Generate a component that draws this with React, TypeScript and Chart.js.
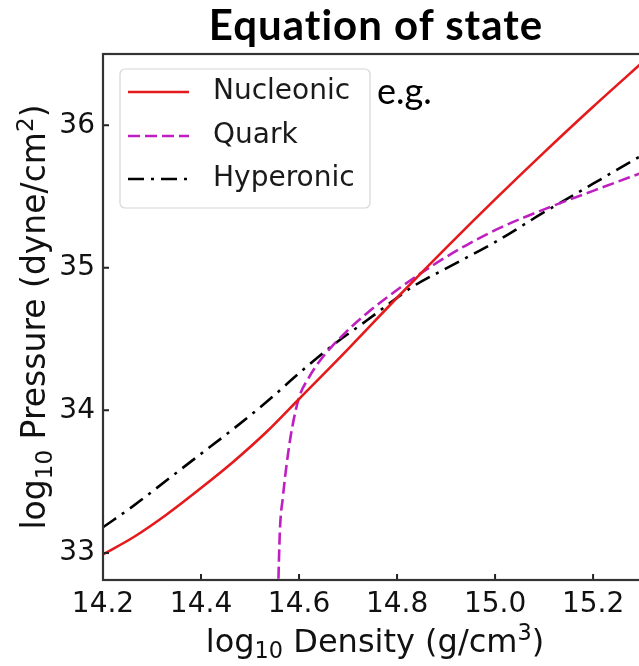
import React, { useEffect, useRef } from 'react';
import { Chart, registerables } from 'chart.js';

Chart.register(...registerables);

// ---- data ----
const seriesLabels = ['Nucleonic', 'Quark', 'Hyperonic'];

const nucleonicX = [14.2, 14.262, 14.33, 14.398, 14.466, 14.534, 14.6, 14.7, 14.8, 14.9, 15.0, 15.1, 15.2, 15.31];
const nucleonicY = [32.99, 33.11, 33.27, 33.45, 33.64, 33.85, 34.08, 34.43, 34.79, 35.14, 35.48, 35.81, 36.13, 36.47];

const quarkX = [14.557, 14.561, 14.567, 14.575, 14.585, 14.6, 14.62, 14.643, 14.69, 14.738, 14.806, 14.874, 14.942, 15.01, 15.1, 15.2, 15.31];
const quarkY = [32.7, 33.16, 33.39, 33.63, 33.86, 34.09, 34.23, 34.35, 34.53, 34.68, 34.86, 35.02, 35.16, 35.28, 35.41, 35.54, 35.68];

const hyperonicX = [14.2, 14.262, 14.33, 14.398, 14.466, 14.534, 14.6, 14.67, 14.738, 14.8, 14.833, 14.908, 15.0, 15.1, 15.2, 15.31];
const hyperonicY = [33.18, 33.33, 33.51, 33.69, 33.87, 34.06, 34.26, 34.46, 34.63, 34.79, 34.87, 35.01, 35.18, 35.39, 35.59, 35.81];

const xTickValues = [14.2, 14.4, 14.6, 14.8, 15.0, 15.2];
const xTickLabels = ['14.2', '14.4', '14.6', '14.8', '15.0', '15.2'];
const yTickValues = [33, 34, 35, 36];
const yTickLabels = ['33', '34', '35', '36'];

const X_MIN = 14.2;
const X_MAX = 15.31;
const Y_MIN = 32.81;
const Y_MAX = 36.5;

type Run = { t: string; sub?: boolean; sup?: boolean };
const xTitleRuns: Run[] = [{ t: 'log' }, { t: '10', sub: true }, { t: ' Density (g/cm' }, { t: '3', sup: true }, { t: ')' }];
const yTitleRuns: Run[] = [{ t: 'log' }, { t: '10', sub: true }, { t: ' Pressure (dyne/cm' }, { t: '2', sup: true }, { t: ')' }];
const chartTitle = 'Equation of state';
const noteText = 'e.g.';

// ---- styling ----
const FONT = 'DejaVu Sans';
const colors = ['#e41a1c', '#bf1fc0', '#000000'];
const dashes: number[][] = [[], [12, 5], [16, 7, 3, 7]];

const pts = (xs: number[], ys: number[]) => xs.map((x, i) => ({ x, y: ys[i] }));

function drawRich(ctx: CanvasRenderingContext2D, runs: Run[], size: number, cx: number, baseline: number, rotate: boolean) {
  ctx.save();
  ctx.translate(cx, baseline);
  if (rotate) ctx.rotate(-Math.PI / 2);
  ctx.fillStyle = '#111';
  ctx.textBaseline = 'alphabetic';
  ctx.textAlign = 'left';
  const fontFor = (r: Run) => `${r.sub || r.sup ? size * 0.7 : size}px "${FONT}"`;
  let total = 0;
  for (const r of runs) {
    ctx.font = fontFor(r);
    total += ctx.measureText(r.t).width;
  }
  let x = -total / 2;
  for (const r of runs) {
    ctx.font = fontFor(r);
    const dy = r.sub ? size * 0.2 : r.sup ? -size * 0.36 : 0;
    ctx.fillText(r.t, x, dy);
    x += ctx.measureText(r.t).width;
  }
  ctx.restore();
}

const framePlugin = {
  id: 'frameAndLegend',
  afterDraw(chart: any) {
    const { ctx, chartArea: a, scales } = chart;
    ctx.save();
    // inward ticks
    ctx.strokeStyle = '#222';
    ctx.lineWidth = 2;
    ctx.setLineDash([]);
    ctx.beginPath();
    for (const v of xTickValues) {
      const px = scales.x.getPixelForValue(v);
      ctx.moveTo(px, a.bottom);
      ctx.lineTo(px, a.bottom - 6);
    }
    for (const v of yTickValues) {
      const py = scales.y.getPixelForValue(v);
      ctx.moveTo(a.left, py);
      ctx.lineTo(a.left + 6, py);
    }
    ctx.stroke();
    // frame
    ctx.strokeStyle = '#333';
    ctx.lineWidth = 2.2;
    ctx.strokeRect(a.left, a.top, a.right - a.left, a.bottom - a.top);

    // axis titles (with sub/superscripts)
    drawRich(ctx, xTitleRuns, 32, (a.left + a.right) / 2, a.bottom + 72, false);
    drawRich(ctx, yTitleRuns, 33, 45, (a.top + a.bottom) / 2, true);

    // legend
    const bx = a.left + 17;
    const by = a.top + 15;
    const bw = 250;
    const bh = 139;
    ctx.beginPath();
    if ((ctx as any).roundRect) (ctx as any).roundRect(bx, by, bw, bh, 5);
    else ctx.rect(bx, by, bw, bh);
    ctx.fillStyle = 'rgba(255,255,255,0.9)';
    ctx.fill();
    ctx.strokeStyle = '#d6d6d6';
    ctx.lineWidth = 1.2;
    ctx.stroke();
    const rows = [23, 67, 110];
    chart.data.datasets.forEach((ds: any, i: number) => {
      const y = by + rows[i];
      ctx.beginPath();
      ctx.strokeStyle = ds.borderColor;
      ctx.lineWidth = ds.borderWidth;
      ctx.setLineDash(ds.borderDash || []);
      ctx.moveTo(bx + 8, y);
      ctx.lineTo(bx + 69, y);
      ctx.stroke();
      ctx.setLineDash([]);
      ctx.fillStyle = '#1a1a1a';
      ctx.font = `28px "${FONT}"`;
      ctx.textBaseline = 'middle';
      ctx.textAlign = 'left';
      ctx.fillText(ds.label, bx + 93, y);
    });
    ctx.restore();
  },
};

export default function App() {
  const ref = useRef<HTMLCanvasElement>(null);
  useEffect(() => {
    const seriesX = [nucleonicX, quarkX, hyperonicX];
    const seriesY = [nucleonicY, quarkY, hyperonicY];
    const chart = new Chart(ref.current as HTMLCanvasElement, {
      type: 'line',
      data: {
        datasets: seriesLabels.map((label, i) => ({
          label,
          data: pts(seriesX[i], seriesY[i]),
          borderColor: colors[i],
          backgroundColor: colors[i],
          borderWidth: 2.6,
          borderDash: dashes[i],
          pointRadius: 0,
          fill: false,
          cubicInterpolationMode: 'monotone' as const,
          clip: 0,
        })),
      },
      options: {
        responsive: false,
        animation: false,
        devicePixelRatio: 1,
        layout: { padding: { left: 0, top: 54, right: 13, bottom: 0 } },
        plugins: {
          legend: { display: false },
          tooltip: { enabled: false },
          title: { display: false },
        },
        scales: {
          x: {
            type: 'linear',
            min: X_MIN,
            max: X_MAX,
            afterBuildTicks: (s: any) => {
              s.ticks = xTickValues.map((v) => ({ value: v }));
            },
            afterFit: (s: any) => {
              s.height = 86;
            },
            grid: { display: false, drawTicks: false },
            border: { display: false },
            ticks: {
              padding: 8,
              color: '#111',
              font: { family: FONT, size: 28 },
              maxRotation: 0,
              autoSkip: false,
              callback: (_v: any, i: number) => xTickLabels[i],
            },
            title: { display: false },
          },
          y: {
            type: 'linear',
            min: Y_MIN,
            max: Y_MAX,
            afterBuildTicks: (s: any) => {
              s.ticks = yTickValues.map((v) => ({ value: v }));
            },
            afterFit: (s: any) => {
              s.width = 103;
            },
            grid: { display: false, drawTicks: false },
            border: { display: false },
            ticks: {
              padding: 8,
              color: '#111',
              font: { family: FONT, size: 28 },
              autoSkip: false,
              callback: (_v: any, i: number) => yTickLabels[i],
            },
            title: { display: false },
          },
        },
      },
      plugins: [framePlugin],
    } as any);
    return () => chart.destroy();
  }, []);

  return (
    <div
      style={{
        position: 'fixed',
        left: 0,
        top: 0,
        width: 639,
        height: 666,
        overflow: 'hidden',
        background: '#fff',
      }}
    >
      <canvas ref={ref} width={660} height={666} style={{ position: 'absolute', left: 0, top: 0 }} />
      <div
        style={{
          position: 'absolute',
          left: 376,
          top: 3,
          transform: 'translateX(-50%)',
          whiteSpace: 'nowrap',
          font: 'bold 42px Lato',
          letterSpacing: '1px',
          lineHeight: '42px',
          color: '#000',
        }}
      >
        {chartTitle}
      </div>
      <div
        style={{
          position: 'absolute',
          left: 377,
          top: 72,
          whiteSpace: 'nowrap',
          font: '36px Lato',
          lineHeight: '36px',
          color: '#000',
        }}
      >
        {noteText}
      </div>
    </div>
  );
}
